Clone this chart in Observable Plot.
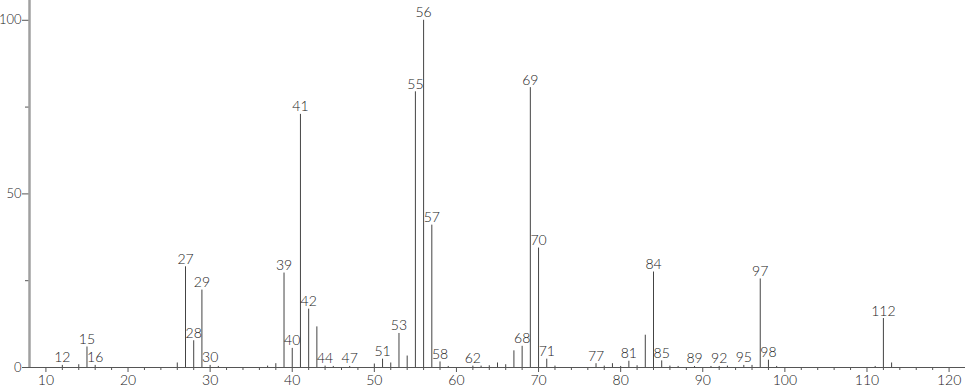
<!DOCTYPE html>
<html>
<head>
<meta charset="utf-8">
<script src="https://cdn.jsdelivr.net/npm/d3@7"></script>
<script src="https://cdn.jsdelivr.net/npm/@observablehq/plot@0.6"></script>
<style>
  html, body { margin: 0; padding: 0; background: #fff; }
  #chart svg { display: block; }
</style>
</head>
<body>
<div id="chart"></div>
<script>
// m/z values and relative intensities
const mz = [12, 14, 15, 16, 26, 27, 28, 29, 30, 31, 37, 38, 39, 40, 41, 42, 43, 44, 45, 47,
            50, 51, 52, 53, 54, 55, 56, 57, 58, 59, 62, 63, 64, 65, 66, 67, 68, 69, 70, 71, 72,
            77, 78, 79, 80, 81, 82, 83, 84, 85, 86, 87, 89, 91, 92, 93, 95, 96, 97, 98, 99,
            111, 112, 113];
const intensity = [0.6, 0.8, 5.9, 0.6, 1.3, 29.0, 7.7, 22.3, 0.6, 0.3, 0.4, 1.1, 27.2, 5.5, 72.9, 16.8, 11.7, 0.4, 0.3, 0.3,
            1.0, 2.4, 1.3, 9.8, 3.3, 79.4, 100, 41.0, 1.6, 0.3, 0.4, 0.4, 0.5, 1.3, 0.8, 4.8, 6.1, 80.6, 34.4, 2.4, 0.4,
            1.1, 0.4, 1.1, 0.3, 1.8, 0.5, 9.3, 27.5, 1.9, 0.4, 0.3, 0.3, 0.3, 0.3, 0.4, 0.6, 0.6, 25.5, 2.1, 0.3,
            0.3, 14.1, 1.3];
// peaks that carry a label
const labeledMz = [12, 15, 16, 27, 28, 29, 30, 39, 40, 41, 42, 44, 47, 51, 53, 55, 56, 57, 58, 62,
                   68, 69, 70, 71, 77, 81, 84, 85, 89, 92, 95, 97, 98, 112];
const xMajorTicks = [10, 20, 30, 40, 50, 60, 70, 80, 90, 100, 110, 120];
const xMinorTicks = d3.range(10, 122, 2).filter(v => v % 10 !== 0);
const yMajorTicks = [0, 50, 100];
const yMinorTicks = [25, 75];

const peaks = mz.map((m, i) => ({mz: m, value: intensity[i]}));
const labels = peaks.filter(d => labeledMz.includes(d.mz));

const font = "Lato, 'DejaVu Sans', sans-serif";

const chart = Plot.plot({
  width: 966,
  height: 389,
  marginLeft: 29,
  marginRight: 1,
  marginTop: 0,
  marginBottom: 22,
  style: {fontFamily: font, fontSize: "14px", fontWeight: 300, background: "#fff", color: "#333"},
  x: {domain: [8, 122], axis: null},
  y: {domain: [0, 105.7], axis: null},
  marks: [
    // x axis: minor ticks, major ticks & labels
    Plot.axisX({ticks: xMinorTicks, tickSize: 3, tickFormat: () => "", stroke: "#555", label: null}),
    Plot.axisX({ticks: xMajorTicks, tickSize: 5, tickPadding: 3, stroke: "#555",
                fill: "#222", fontSize: 14, label: null}),
    // y axis: minor & major ticks
    Plot.axisY({ticks: yMinorTicks, tickSize: 4, tickFormat: () => "", stroke: "#555", label: null}),
    Plot.axisY({ticks: yMajorTicks, tickSize: 7, tickPadding: 1, stroke: "#555",
                fill: "#222", fontSize: 13, label: null}),
    // baseline
    Plot.ruleY([0], {stroke: "#555", strokeWidth: 1}),
    // peaks
    Plot.ruleX(peaks, {x: "mz", y1: 0, y2: "value", stroke: "#444", strokeWidth: 1}),
    // left axis line
    Plot.ruleX([8], {stroke: "#a0a0a0", strokeWidth: 2.5}),
    // peak labels
    Plot.text(labels, {x: "mz", y: "value", text: d => String(d.mz), lineAnchor: "bottom",
                       dy: -3, fill: "#222", fontSize: 14})
  ]
});
document.getElementById("chart").appendChild(chart);
</script>
</body>
</html>
